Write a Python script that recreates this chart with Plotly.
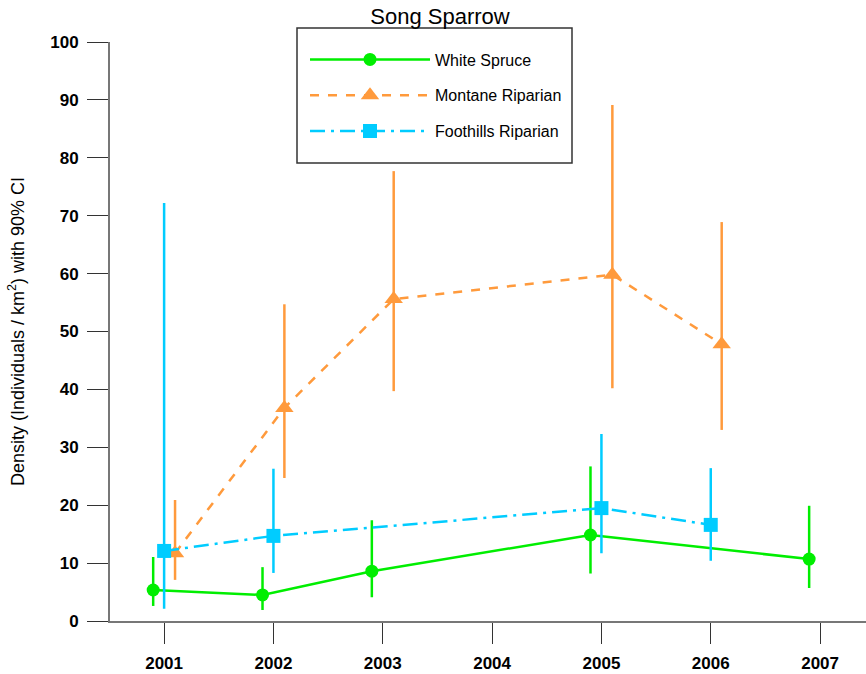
import plotly.graph_objects as go

# Data
ws_years = [2001, 2002, 2003, 2005, 2007]
ws_vals = [5.35, 4.5, 8.6, 14.85, 10.7]
ws_hi = [11.05, 9.3, 17.4, 26.7, 19.9]
ws_lo = [2.6, 1.9, 4.1, 8.2, 5.7]

mr_years = [2001, 2002, 2003, 2005, 2006]
mr_vals = [11.7, 36.8, 55.6, 59.8, 47.8]
mr_hi = [20.9, 54.7, 77.7, 89.1, 68.9]
mr_lo = [7.1, 24.7, 39.7, 40.2, 33.0]

fr_years = [2001, 2002, 2005, 2006]
fr_vals = [12.1, 14.7, 19.5, 16.6]
fr_hi = [72.2, 26.3, 32.3, 26.4]
fr_lo = [2.1, 8.3, 11.7, 10.4]

tick_years = [2001, 2002, 2003, 2004, 2005, 2006, 2007]
y_ticks = [0, 10, 20, 30, 40, 50, 60, 70, 80, 90, 100]

GREEN = "#00ee00"
ORANGE = "#ff9a3c"
BLUE = "#00ccff"


def series(name, years, vals, hi, lo, offset, color, dash, symbol, size):
    return go.Scatter(
        name=name,
        legendgroup=name,
        x=[y + offset for y in years],
        y=vals,
        mode="lines+markers",
        line=dict(color=color, width=2.5, dash=dash),
        marker=dict(symbol=symbol, size=size, color=color),
        error_y=dict(
            type="data",
            symmetric=False,
            array=[h - v for h, v in zip(hi, vals)],
            arrayminus=[v - l for v, l in zip(vals, lo)],
            color=color,
            thickness=2.5,
            width=0,
        ),
    )


fig = go.Figure()
fig.add_trace(series("White Spruce", ws_years, ws_vals, ws_hi, ws_lo, -0.1, GREEN, "solid", "circle", 13))
fig.add_trace(series("Montane Riparian", mr_years, mr_vals, mr_hi, mr_lo, 0.1, ORANGE, "dash", "triangle-up", 16))
fig.add_trace(series("Foothills Riparian", fr_years, fr_vals, fr_hi, fr_lo, 0.0, BLUE, "longdashdot", "square", 14))

W, H = 866, 674
L, T, B = 110, 42, 53
PW, PH = W - L, H - T - B


def px_x(page_x):
    return (page_x - L) / PW


def px_y(page_y):
    return 1 - (page_y - T) / PH


fig.update_layout(
    width=W,
    height=H,
    margin=dict(l=L, r=0, t=T, b=B),
    paper_bgcolor="white",
    plot_bgcolor="white",
    font=dict(family="Liberation Sans, Arial, sans-serif", color="black"),
    title=dict(text="Song Sparrow", x=440 / W, xanchor="center", xref="container",
               y=1 - 16 / H, yanchor="middle", yref="container",
               font=dict(size=22, color="black")),
    showlegend=True,
    legend=dict(
        x=px_x(305), y=px_y(42.5), xref="paper", yref="paper",
        xanchor="left", yanchor="top",
        borderwidth=0, bgcolor="rgba(0,0,0,0)",
        font=dict(family="Liberation Sans, Arial, sans-serif", size=16, color="black"),
        itemwidth=120,
        tracegroupgap=12,
    ),
    shapes=[dict(
        type="rect", xref="paper", yref="paper",
        x0=px_x(297), x1=px_x(572), y0=px_y(163), y1=px_y(28),
        line=dict(color="#333333", width=1.5), fillcolor="white", layer="above",
    )],
    xaxis=dict(
        range=[2000.505, 2007.42],
        tickvals=tick_years,
        ticktext=[str(t) for t in tick_years],
        ticks="outside", ticklen=21, tickwidth=1.2, tickcolor="#333333",
        ticklabelstandoff=5,
        showline=True, linecolor="#777777", linewidth=2,
        showgrid=False, zeroline=False,
        tickfont=dict(size=17, family="Liberation Sans, Arial, sans-serif", weight="bold"),
    ),
    yaxis=dict(
        range=[0, 100],
        tickvals=y_ticks,
        ticks="outside", ticklen=21, tickwidth=1.2, tickcolor="#333333",
        ticklabelstandoff=5,
        showline=True, linecolor="#777777", linewidth=2,
        showgrid=False, zeroline=False,
        tickfont=dict(size=17, family="Liberation Sans, Arial, sans-serif", weight="bold"),
        title=dict(text="Density (Individuals / km<sup>2</sup>) with 90% CI",
                   font=dict(size=18), standoff=21),
    ),
)

fig.write_html("out.html",
               config={"displayModeBar": False},
               post_script="document.body.style.margin='0';document.body.style.overflow='hidden';")
